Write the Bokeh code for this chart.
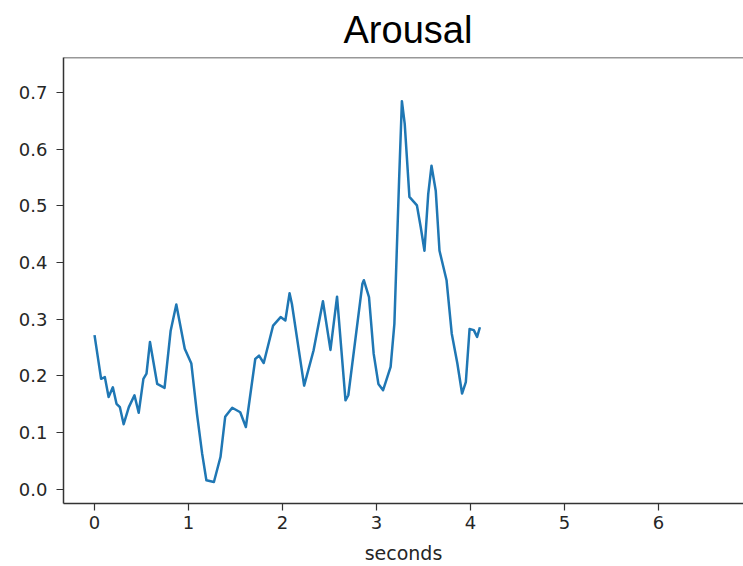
from bokeh.plotting import figure
from bokeh.models import FixedTicker, Range1d, Span, NumeralTickFormatter
from bokeh.embed import file_html
from bokeh.resources import INLINE

# data
seconds = [0.00, 0.07, 0.11, 0.15, 0.195, 0.234, 0.27, 0.31, 0.365, 0.425, 0.47, 0.52,
           0.553, 0.59, 0.667, 0.745, 0.81, 0.87, 0.96, 1.03, 1.09, 1.145, 1.19, 1.27,
           1.34, 1.39, 1.465, 1.55, 1.61, 1.71, 1.75, 1.80, 1.90, 1.98, 2.03, 2.075,
           2.10, 2.23, 2.33, 2.43, 2.51, 2.58, 2.67, 2.70, 2.85, 2.865, 2.92, 2.97,
           3.02, 3.07, 3.15, 3.19, 3.24, 3.27, 3.30, 3.35, 3.43, 3.47, 3.51, 3.55,
           3.585, 3.63, 3.67, 3.745, 3.80, 3.86, 3.91, 3.95, 3.99, 4.035, 4.07, 4.10]
arousal = [0.272, 0.195, 0.198, 0.163, 0.18, 0.151, 0.145, 0.115, 0.145, 0.166, 0.135, 0.195,
           0.204, 0.26, 0.186, 0.179, 0.28, 0.326, 0.248, 0.222, 0.133, 0.063, 0.016, 0.013,
           0.057, 0.128, 0.144, 0.136, 0.11, 0.23, 0.236, 0.223, 0.289, 0.304, 0.298, 0.346,
           0.327, 0.183, 0.245, 0.332, 0.246, 0.34, 0.157, 0.166, 0.363, 0.369, 0.339, 0.239,
           0.186, 0.175, 0.216, 0.292, 0.545, 0.685, 0.645, 0.516, 0.501, 0.463, 0.421, 0.521,
           0.571, 0.527, 0.421, 0.369, 0.275, 0.222, 0.169, 0.189, 0.283, 0.281, 0.269, 0.286]
x_ticks = [0, 1, 2, 3, 4, 5, 6]
y_ticks = [0.0, 0.1, 0.2, 0.3, 0.4, 0.5, 0.6, 0.7]

X_MIN, X_MAX = -0.33, 6.904
Y_MIN, Y_MAX = -0.025, 0.762

p = figure(width=743, height=566, output_backend="svg", toolbar_location=None,
           x_range=Range1d(X_MIN, X_MAX), y_range=Range1d(Y_MIN, Y_MAX),
           min_border_left=63, min_border_right=0, min_border_top=57, min_border_bottom=63)

p.title.text = "Arousal"
p.title.align = "left"
p.title.text_font = "Liberation Sans"
p.title.text_font_size = "38px"
p.title.text_font_style = "normal"
p.title.text_color = "#000000"
p.title.standoff = 13
p.title.offset = 280

p.line(seconds, arousal, line_color="#1f77b4", line_width=2.5, line_join="round")

p.grid.visible = False
p.outline_line_color = None
p.background_fill_color = "white"
p.border_fill_color = "white"

top = Span(location=Y_MAX, dimension="width", line_color="#333333", line_width=1.5)
p.add_layout(top)

for ax in (p.xaxis[0], p.yaxis[0]):
    ax.axis_line_color = "#333333"
    ax.axis_line_width = 1.5
    ax.major_tick_line_color = "#333333"
    ax.major_tick_line_width = 1.2
    ax.major_tick_out = 7
    ax.major_tick_in = 0
    ax.minor_tick_line_color = None
    ax.major_label_text_font = "DejaVu Sans"
    ax.major_label_text_font_size = "18px"
    ax.major_label_text_color = "#262626"

p.xaxis.ticker = FixedTicker(ticks=x_ticks)
p.yaxis.ticker = FixedTicker(ticks=y_ticks)
p.yaxis.formatter = NumeralTickFormatter(format="0.0")
p.xaxis.major_label_standoff = 5
p.yaxis.major_label_standoff = 9
p.xaxis.axis_label = "seconds"
p.xaxis.axis_label_text_font = "DejaVu Sans"
p.xaxis.axis_label_text_font_size = "19px"
p.xaxis.axis_label_text_font_style = "normal"
p.xaxis.axis_label_text_color = "#262626"
p.xaxis.axis_label_standoff = 10

open("out.html", "w").write(file_html(p, INLINE))
